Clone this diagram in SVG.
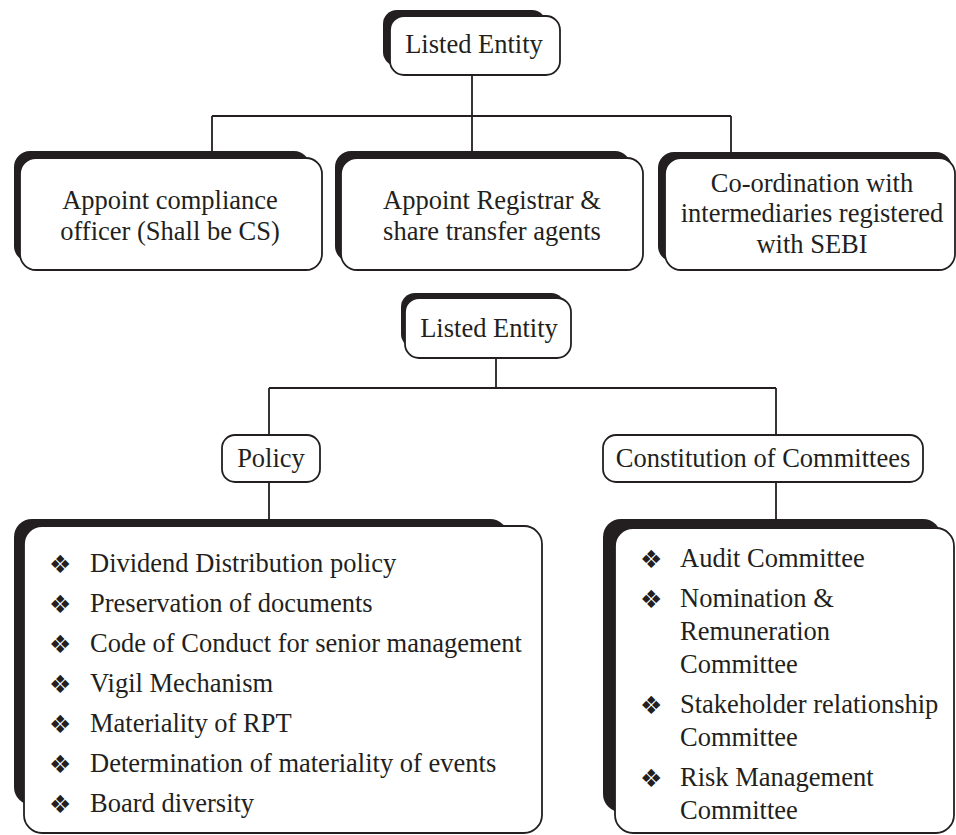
<svg xmlns="http://www.w3.org/2000/svg" width="956" height="835" viewBox="0 0 956 835">
  <style>
    .shadow { fill: #231f20; }
    .box { fill: #ffffff; stroke: #231f20; stroke-width: 1.8; }
    .wire { fill: none; stroke: #231f20; stroke-width: 1.8; }
    text { font-family: "Liberation Serif", "Times New Roman", serif; font-size: 26.5px; fill: #231f20; }
    .c { text-anchor: middle; }
    .b { font-family: "DejaVu Sans", sans-serif; font-size: 25px; }
  </style>
  <rect width="956" height="835" fill="#ffffff"/>

  <!-- connectors -->
  <g id="connectors">
    <path class="wire" d="M472 75 V116 M212 116 H731 M212 116 V152 M472 116 V152 M731 116 V153"/>
    <path class="wire" d="M496 358 V388 M269 388 H776 M269 388 V435 M776 388 V435 M269 482 V520 M776 482 V520"/>
  </g>

  <!-- first chart -->
  <g id="listed-entity-1">
    <rect class="shadow" x="383" y="10" width="163" height="56" rx="14"/>
    <rect class="box" x="390" y="16" width="170" height="59" rx="14"/>
    <text class="c" x="474" y="53">Listed Entity</text>
  </g>

  <g id="compliance-officer">
    <rect class="shadow" x="14" y="151" width="296" height="111" rx="16"/>
    <rect class="box" x="20" y="158" width="302" height="112" rx="16"/>
    <text class="c" x="170" y="209">Appoint compliance</text>
    <text class="c" x="170" y="240">officer (Shall be CS)</text>
  </g>

  <g id="registrar">
    <rect class="shadow" x="335" y="151" width="296" height="111" rx="16"/>
    <rect class="box" x="341" y="158" width="302" height="112" rx="16"/>
    <text class="c" x="492" y="209">Appoint Registrar &amp;</text>
    <text class="c" x="492" y="240">share transfer agents</text>
  </g>

  <g id="intermediaries">
    <rect class="shadow" x="658" y="152" width="294" height="110" rx="16"/>
    <rect class="box" x="665" y="158" width="290" height="112" rx="16"/>
    <text class="c" x="812" y="192">Co-ordination with</text>
    <text class="c" x="812" y="222">intermediaries registered</text>
    <text class="c" x="812" y="253">with SEBI</text>
  </g>

  <!-- second chart -->
  <g id="listed-entity-2">
    <rect class="shadow" x="401" y="293" width="164" height="55" rx="14"/>
    <rect class="box" x="405" y="298" width="166" height="60" rx="14"/>
    <text class="c" x="489" y="337">Listed Entity</text>
  </g>

  <g id="policy">
    <rect class="box" x="222" y="435" width="98" height="47" rx="13"/>
    <text class="c" x="271" y="467">Policy</text>
  </g>

  <g id="committees">
    <rect class="box" x="603" y="435" width="320" height="47" rx="13"/>
    <text class="c" x="763" y="467">Constitution of Committees</text>
  </g>

  <g id="policy-list">
    <rect class="shadow" x="14" y="519" width="494" height="286" rx="18"/>
    <rect class="box" x="24" y="526" width="518" height="307" rx="18"/>
    <text class="b" x="49" y="573">❖</text>
    <text x="90" y="572">Dividend Distribution policy</text>
    <text class="b" x="49" y="613">❖</text>
    <text x="90" y="612">Preservation of documents</text>
    <text class="b" x="49" y="653">❖</text>
    <text x="90" y="652">Code of Conduct for senior management</text>
    <text class="b" x="49" y="693">❖</text>
    <text x="90" y="692">Vigil Mechanism</text>
    <text class="b" x="49" y="733">❖</text>
    <text x="90" y="732">Materiality of RPT</text>
    <text class="b" x="49" y="773">❖</text>
    <text x="90" y="772">Determination of materiality of events</text>
    <text class="b" x="49" y="813">❖</text>
    <text x="90" y="812">Board diversity</text>
  </g>

  <g id="committee-list">
    <rect class="shadow" x="603" y="519" width="338" height="293" rx="18"/>
    <rect class="box" x="615" y="528" width="339" height="305" rx="18"/>
    <text class="b" x="640" y="568">❖</text>
    <text x="680" y="567">Audit Committee</text>
    <text class="b" x="640" y="608">❖</text>
    <text x="680" y="607">Nomination &amp;</text>
    <text x="680" y="640">Remuneration</text>
    <text x="680" y="673">Committee</text>
    <text class="b" x="640" y="714">❖</text>
    <text x="680" y="713">Stakeholder relationship</text>
    <text x="680" y="746">Committee</text>
    <text class="b" x="640" y="787">❖</text>
    <text x="680" y="786">Risk Management</text>
    <text x="680" y="819">Committee</text>
  </g>
</svg>
